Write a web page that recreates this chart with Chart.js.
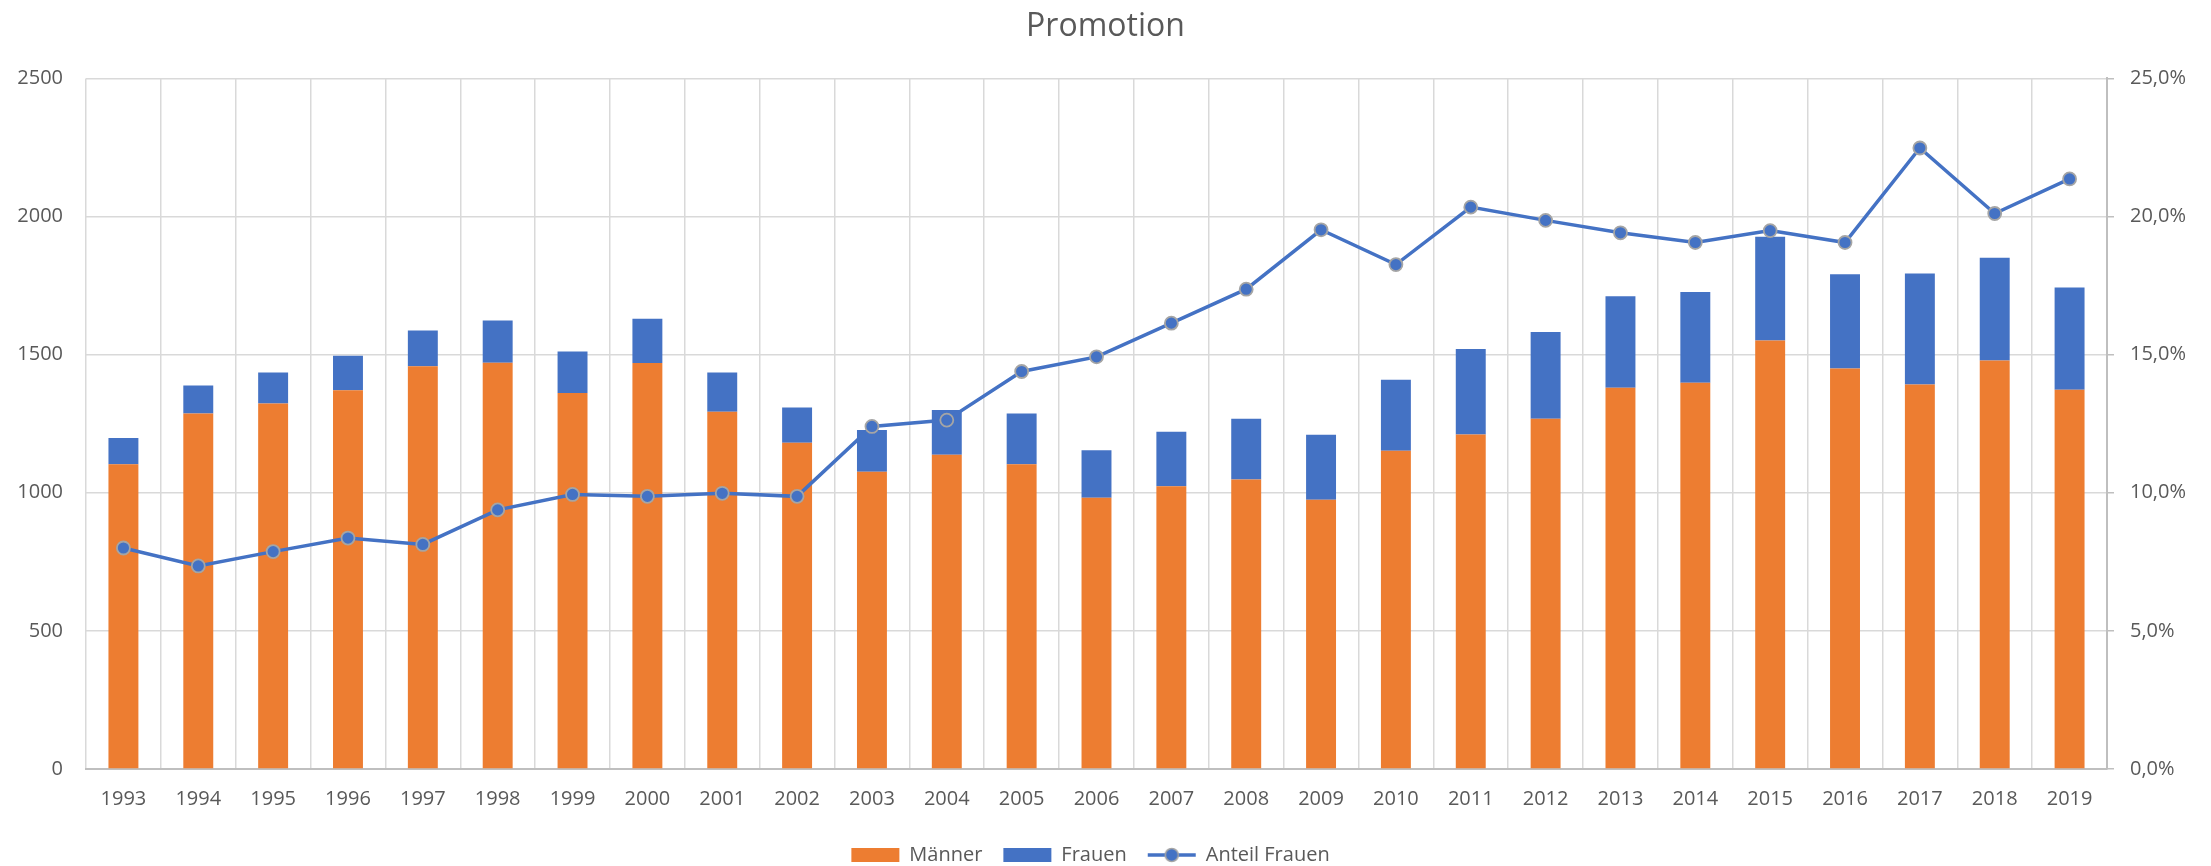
<!DOCTYPE html>
<html>
<head>
<meta charset="utf-8">
<title>Promotion</title>
<script src="https://cdn.jsdelivr.net/npm/chart.js@4.4.1/dist/chart.umd.min.js"></script>
<style>
  html, body { margin: 0; padding: 0; background: #fff; }
  #wrap { width: 2211px; height: 866px; }
</style>
</head>
<body>
<div id="wrap"><canvas id="promotionChart" width="2211" height="866"></canvas></div>
<script>
const jahre = ['1993', '1994', '1995', '1996', '1997', '1998', '1999', '2000', '2001', '2002',
  '2003', '2004', '2005', '2006', '2007', '2008', '2009', '2010', '2011', '2012',
  '2013', '2014', '2015', '2016', '2017', '2018', '2019'];

const maenner = [1103, 1287, 1323, 1371, 1458, 1471, 1361, 1470, 1293, 1181,
  1076, 1138, 1103, 982, 1024, 1048, 975, 1152, 1211, 1268,
  1380, 1398, 1551, 1450, 1392, 1479, 1373];

const frauen = [95, 101, 112, 125, 129, 153, 150, 160, 142, 128,
  151, 162, 184, 172, 197, 220, 235, 257, 309, 314,
  331, 329, 376, 341, 402, 372, 370];

// Anteil Frauen in Prozent (rechte Achse)
const anteilFrauen = [8.0, 7.35, 7.87, 8.36, 8.13, 9.38, 9.94, 9.87, 9.98, 9.87,
  12.40, 12.63, 14.39, 14.92, 16.14, 17.37, 19.52, 18.26, 20.34, 19.86,
  19.41, 19.06, 19.49, 19.06, 22.48, 20.11, 21.36];

const ORANGE = '#ED7D31';
const BLAU = '#4472C4';
const GRID = '#D9D9D9';
const ACHSE = '#BFBFBF';
const TEXT = '#595959';

// kleine Bilder fuer die Legende
function legendIcon(art, farbe) {
  const c = document.createElement('canvas');
  c.width = 50;
  c.height = 16;
  const g = c.getContext('2d');
  if (art === 'rect') {
    g.fillStyle = farbe;
    g.fillRect(1, 1, 48, 14);
  } else {
    g.strokeStyle = farbe;
    g.lineWidth = 3.5;
    g.beginPath();
    g.moveTo(1, 8);
    g.lineTo(49, 8);
    g.stroke();
    g.beginPath();
    g.arc(25, 8, 6.5, 0, Math.PI * 2);
    g.fillStyle = farbe;
    g.fill();
    g.lineWidth = 1.5;
    g.strokeStyle = '#A5A5A5';
    g.stroke();
  }
  return c;
}
const icons = [legendIcon('rect', ORANGE), legendIcon('rect', BLAU), legendIcon('line', BLAU)];

// Legende etwas nach links, wie im Original
const legendeVerschieben = {
  id: 'legendeVerschieben',
  afterLayout(chart) {
    chart.legend.left -= 15;
    chart.legend.right -= 15;
  }
};

Chart.defaults.font.family = "'Open Sans', sans-serif";
Chart.defaults.font.size = 20;
Chart.defaults.color = TEXT;

const ctx = document.getElementById('promotionChart').getContext('2d');
new Chart(ctx, {
  type: 'bar',
  data: {
    labels: jahre,
    datasets: [
      {
        label: 'Männer',
        data: maenner,
        backgroundColor: ORANGE,
        stack: 'gesamt',
        yAxisID: 'y',
        order: 1,
        barPercentage: 0.4,
        categoryPercentage: 1.0
      },
      {
        label: 'Frauen',
        data: frauen,
        backgroundColor: BLAU,
        stack: 'gesamt',
        yAxisID: 'y',
        order: 1,
        barPercentage: 0.4,
        categoryPercentage: 1.0
      },
      {
        type: 'line',
        label: 'Anteil Frauen',
        data: anteilFrauen,
        yAxisID: 'y1',
        order: 0,
        borderColor: BLAU,
        backgroundColor: BLAU,
        borderWidth: 3.5,
        tension: 0,
        pointRadius: 6.5,
        pointBackgroundColor: BLAU,
        pointBorderColor: '#A5A5A5',
        pointBorderWidth: 1.8
      }
    ]
  },
  plugins: [legendeVerschieben],
  options: {
    responsive: false,
    animation: false,
    layout: { padding: { left: 0, right: 0, top: 0, bottom: -9 } },
    plugins: {
      title: {
        display: true,
        text: 'Promotion',
        color: TEXT,
        font: { size: 32, weight: 'normal' },
        padding: { top: 8, bottom: 32 }
      },
      legend: {
        position: 'bottom',
        labels: {
          usePointStyle: true,
          pointStyleWidth: 48,
          padding: 21,
          color: TEXT,
          font: { size: 20 },
          generateLabels: (chart) => {
            const items = Chart.defaults.plugins.legend.labels.generateLabels(chart);
            items.sort((a, b) => a.datasetIndex - b.datasetIndex);
            items.forEach(it => { it.pointStyle = icons[it.datasetIndex]; });
            return items;
          }
        }
      },
      tooltip: { enabled: false }
    },
    scales: {
      x: {
        stacked: true,
        grid: { color: GRID, lineWidth: 1.5, drawTicks: false, offset: true },
        border: { display: true, color: ACHSE, width: 2 },
        ticks: { padding: 18, maxRotation: 0, autoSkip: false },
        afterFit: (scale) => { scale.height = 55; }
      },
      y: {
        stacked: true,
        position: 'left',
        min: 0,
        max: 2500,
        ticks: { stepSize: 500, padding: 23, callback: (v) => String(v) },
        grid: { color: GRID, lineWidth: 1.5, drawTicks: false },
        border: { display: false },
        afterFit: (scale) => { scale.width = 86; }
      },
      y1: {
        position: 'right',
        min: 0,
        max: 25,
        ticks: {
          stepSize: 5,
          padding: 16,
          callback: (v) => v.toFixed(1).replace('.', ',') + '%'
        },
        grid: { drawOnChartArea: false, drawTicks: true, tickLength: 7, color: ACHSE, lineWidth: 1.5 },
        border: { display: true, color: ACHSE, width: 2 },
        afterFit: (scale) => { scale.width = 104; }
      }
    }
  }
});
</script>
</body>
</html>
